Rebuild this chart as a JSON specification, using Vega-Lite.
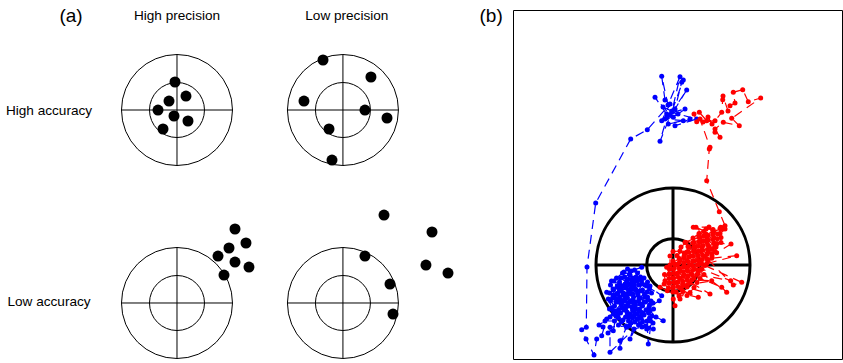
{
"$schema":"https://vega.github.io/schema/vega-lite/v6.json",
"padding":{"left":0,"top":7,"right":1,"bottom":3},
"spacing":13,
"bounds":"flush",
"config":{"view":{"stroke":null},"axis":{"disable":true},"font":"Liberation Sans","text":{"font":"Liberation Sans"}},
"datasets":{
"targetsA":[{"x":0,"y":0},{"x":29.9,"y":0},{"x":0,"y":-34.77},{"x":29.9,"y":-34.77}],
"crossA":[{"x":-10,"x2":10,"y":0,"y2":0},{"x":0,"x2":0,"y":-10,"y2":10},{"x":19.9,"x2":39.9,"y":0,"y2":0},{"x":29.9,"x2":29.9,"y":-10,"y2":10},{"x":-10,"x2":10,"y":-34.77,"y2":-34.77},{"x":0,"x2":0,"y":-44.77,"y2":-24.77},{"x":19.9,"x2":39.9,"y":-34.77,"y2":-34.77},{"x":29.9,"x2":29.9,"y":-44.77,"y2":-24.77}],
"dotsA":[{"x":-0.36,"y":5.05},{"x":1.62,"y":2.52},{"x":-1.44,"y":1.62},{"x":-3.42,"y":0},{"x":-0.54,"y":-1.08},{"x":1.98,"y":-1.98},{"x":-2.52,"y":-3.42},
{"x":26.31,"y":9.01},{"x":34.95,"y":5.95},{"x":22.88,"y":1.62},{"x":33.87,"y":0},{"x":37.84,"y":-1.44},{"x":27.39,"y":-3.42},{"x":27.93,"y":-9.01},
{"x":10.45,"y":-21.44},{"x":12.43,"y":-23.96},{"x":9.37,"y":-24.86},{"x":7.39,"y":-26.31},{"x":10.45,"y":-27.39},{"x":12.97,"y":-28.29},{"x":8.47,"y":-29.73},
{"x":37.3,"y":-18.92},{"x":45.95,"y":-21.98},{"x":33.87,"y":-26.31},{"x":44.86,"y":-27.93},{"x":48.83,"y":-29.37},{"x":38.38,"y":-31.35},{"x":38.92,"y":-36.76}],
"tags":[{"t":"(a)","x":-19.1,"y":16.9},{"t":"(b)","x":56.6,"y":16.9}],
"labelsA":[{"t":"High precision","x":0,"y":16.9},{"t":"Low precision","x":30.6,"y":16.9},{"t":"High accuracy","x":-23.06,"y":-0.18},{"t":"Low accuracy","x":-23.06,"y":-34.6}],
"targetB":[{"x":0,"y":0}],
"crossB":[{"x":-7.7,"x2":7.7,"y":0,"y2":0},{"x":0,"x2":0,"y":-7.7,"y2":7.7}],
"walk":[
{"s":"blue","x":-0.8,"y":16.5},{"s":"blue","x":-1.13,"y":18.87},{"s":"blue","x":-0.5,"y":16.0},{"s":"blue","x":0.7,"y":18.83},{"s":"blue","x":-0.1,"y":15.4},{"s":"blue","x":1.03,"y":18.5},{"s":"blue","x":0.87,"y":18.27},{"s":"blue","x":0.2,"y":15.6},{"s":"blue","x":1.37,"y":17.5},{"s":"blue","x":-0.3,"y":15.0},{"s":"blue","x":-1.8,"y":16.77},{"s":"blue","x":-0.63,"y":15.1},{"s":"blue","x":1.2,"y":15.6},{"s":"blue","x":0.03,"y":14.77},{"s":"blue","x":-0.8,"y":14.6},{"s":"blue","x":1.03,"y":14.43},{"s":"blue","x":-0.47,"y":14.1},{"s":"blue","x":1.7,"y":14.6},{"s":"blue","x":0.2,"y":13.93},{"s":"blue","x":2.37,"y":14.6},{"s":"blue","x":-0.13,"y":15.27},{"s":"blue","x":-1.3,"y":12.37},{"s":"blue","x":-0.6,"y":14.8},{"s":"blue","x":-1.0,"y":15.8},{"s":"blue","x":0.5,"y":15.1},{"s":"blue","x":-1.13,"y":14.43},{"s":"blue","x":-0.3,"y":16.1},{"s":"blue","x":-2.57,"y":13.53},{"s":"blue","x":-4.23,"y":12.6},{"s":"blue","x":-7.73,"y":6.2},{"s":"blue","x":-8.6,"y":-0.2},{"s":"blue","x":-8.67,"y":-6.23},
{"s":"blue","x":-9.13,"y":-6.47},{"s":"blue","x":-8.7,"y":-7.4},{"s":"blue","x":-7.9,"y":-9.0},{"s":"blue","x":-7.63,"y":-7.4},{"s":"blue","x":-7.13,"y":-7.07},{"s":"blue","x":-6.63,"y":-5.4},{"s":"blue","x":-5.8,"y":-4.6},{"s":"blue","x":-5.2,"y":-3.9},{"s":"blue","x":-4.6,"y":-3.2},{"s":"blue","x":-5.3,"y":-2.6},{"s":"blue","x":-4.8,"y":-1.9},{"s":"blue","x":-4.1,"y":-2.4},{"s":"blue","x":-3.6,"y":-1.6},{"s":"blue","x":-4.3,"y":-1.0},{"s":"blue","x":-4.9,"y":-0.7},{"s":"blue","x":-4.2,"y":-0.6},{"s":"blue","x":-3.13,"y":-0.23},{"s":"blue","x":-3.7,"y":-1.2},{"s":"blue","x":-3.1,"y":-1.9},{"s":"blue","x":-3.5,"y":-2.7},{"s":"blue","x":-2.8,"y":-3.2},{"s":"blue","x":-3.3,"y":-3.9},{"s":"blue","x":-4.0,"y":-3.5},{"s":"blue","x":-4.7,"y":-4.1},{"s":"blue","x":-5.4,"y":-3.4},{"s":"blue","x":-6.0,"y":-3.0},{"s":"blue","x":-6.63,"y":-2.73},{"s":"blue","x":-5.6,"y":-2.2},{"s":"blue","x":-5.9,"y":-1.6},{"s":"blue","x":-5.2,"y":-1.3},{"s":"blue","x":-4.6,"y":-1.8},{"s":"blue","x":-4.0,"y":-2.9},{"s":"blue","x":-3.4,"y":-3.3},{"s":"blue","x":-2.6,"y":-2.7},{"s":"blue","x":-2.3,"y":-2.1},{"s":"blue","x":-2.9,"y":-1.3},{"s":"blue","x":-3.9,"y":-1.9},{"s":"blue","x":-4.4,"y":-2.6},{"s":"blue","x":-5.0,"y":-3.0},{"s":"blue","x":-5.7,"y":-3.7},{"s":"blue","x":-6.47,"y":-3.4},{"s":"blue","x":-6.1,"y":-4.3},{"s":"blue","x":-5.5,"y":-4.9},{"s":"blue","x":-4.9,"y":-4.5},{"s":"blue","x":-4.3,"y":-4.9},{"s":"blue","x":-3.7,"y":-4.4},{"s":"blue","x":-3.0,"y":-4.8},{"s":"blue","x":-2.4,"y":-4.2},{"s":"blue","x":-1.37,"y":-3.57},{"s":"blue","x":-2.0,"y":-3.8},{"s":"blue","x":-2.5,"y":-3.5},{"s":"blue","x":-3.1,"y":-4.0},{"s":"blue","x":-3.8,"y":-3.7},{"s":"blue","x":-4.5,"y":-3.8},{"s":"blue","x":-5.1,"y":-4.3},{"s":"blue","x":-6.13,"y":-4.4},{"s":"blue","x":-5.7,"y":-5.1},{"s":"blue","x":-5.97,"y":-6.57},{"s":"blue","x":-5.0,"y":-5.5},{"s":"blue","x":-4.4,"y":-5.2},{"s":"blue","x":-3.8,"y":-5.7},{"s":"blue","x":-4.3,"y":-7.4},{"s":"blue","x":-3.2,"y":-5.3},{"s":"blue","x":-2.6,"y":-5.6},{"s":"blue","x":-2.47,"y":-7.9},{"s":"blue","x":-2.1,"y":-5.1},{"s":"blue","x":-2.7,"y":-4.5},{"s":"blue","x":-3.4,"y":-4.6},{"s":"blue","x":-4.1,"y":-4.2},{"s":"blue","x":-4.8,"y":-3.3},{"s":"blue","x":-5.3,"y":-2.0},{"s":"blue","x":-4.5,"y":-1.4},{"s":"blue","x":-3.9,"y":-2.2},{"s":"blue","x":-3.2,"y":-2.6},{"s":"blue","x":-2.8,"y":-2.0},{"s":"blue","x":-1.13,"y":-3.07},{"s":"blue","x":-3.4,"y":-1.4},{"s":"blue","x":-4.1,"y":-1.5},{"s":"blue","x":-4.7,"y":-2.3},{"s":"blue","x":-5.5,"y":-2.8},{"s":"blue","x":-6.0,"y":-2.4},{"s":"blue","x":-5.8,"y":-3.3},{"s":"blue","x":-5.2,"y":-3.5},{"s":"blue","x":-4.6,"y":-4.7},{"s":"blue","x":-3.9,"y":-5.1},{"s":"blue","x":-3.3,"y":-5.9},{"s":"blue","x":-2.63,"y":-6.4},{"s":"blue","x":-2.5,"y":-6.3},{"s":"blue","x":-2.0,"y":-5.8},{"s":"blue","x":-0.97,"y":-5.57},{"s":"blue","x":-1.7,"y":-5.2},{"s":"blue","x":-2.3,"y":-4.6},{"s":"blue","x":-2.9,"y":-5.0},{"s":"blue","x":-3.6,"y":-5.4},{"s":"blue","x":-4.2,"y":-5.8},{"s":"blue","x":-4.63,"y":-6.23},{"s":"blue","x":-5.3,"y":-7.57},{"s":"blue","x":-5.3,"y":-8.33},{"s":"blue","x":-4.7,"y":-6.1},{"s":"blue","x":-6.3,"y":-6.23},{"s":"blue","x":-6.3,"y":-8.73},{"s":"blue","x":-3.9,"y":-6.4},{"s":"blue","x":-3.1,"y":-6.2},{"s":"blue","x":-1.97,"y":-6.4},{"s":"blue","x":-3.6,"y":-4.9},{"s":"blue","x":-4.3,"y":-3.6},{"s":"blue","x":-3.5,"y":-3.0},{"s":"blue","x":-2.9,"y":-3.7},{"s":"blue","x":-3.9,"y":-4.0},{"s":"blue","x":-4.6,"y":-2.9},{"s":"blue","x":-5.4,"y":-2.4},{"s":"blue","x":-4.9,"y":-2.1},{"s":"blue","x":-4.3,"y":-1.9},{"s":"blue","x":-3.7,"y":-2.5},
{"s":"blue","x":-6.15,"y":-1.6},{"s":"blue","x":-6.25,"y":-2.0},{"s":"blue","x":-5.95,"y":-2.5},{"s":"blue","x":-6.35,"y":-2.8},{"s":"blue","x":-6.05,"y":-3.3},{"s":"blue","x":-6.25,"y":-3.6},{"s":"blue","x":-5.85,"y":-4.1},{"s":"blue","x":-6.35,"y":-4.4},{"s":"blue","x":-5.95,"y":-4.9},{"s":"blue","x":-6.3,"y":-5.2},{"s":"blue","x":-5.85,"y":-5.6},{"s":"blue","x":-6.8,"y":-5.6},{"s":"blue","x":-7.4,"y":-6.0},{"s":"blue","x":-7.0,"y":-6.2},{"s":"blue","x":-6.5,"y":-6.8},
{"s":"blue","x":-5.45,"y":-6.0},{"s":"blue","x":-5.15,"y":-5.7},{"s":"blue","x":-5.45,"y":-5.3},{"s":"blue","x":-5.25,"y":-4.8},{"s":"blue","x":-5.45,"y":-4.5},{"s":"blue","x":-5.15,"y":-4.0},{"s":"blue","x":-5.55,"y":-3.7},{"s":"blue","x":-5.35,"y":-3.2},{"s":"blue","x":-5.65,"y":-2.9},{"s":"blue","x":-5.15,"y":-2.4},{"s":"blue","x":-5.55,"y":-2.1},{"s":"blue","x":-5.35,"y":-1.7},{"s":"blue","x":-5.65,"y":-1.3},{"s":"blue","x":-5.05,"y":-0.8},
{"s":"blue","x":-4.55,"y":-0.4},{"s":"blue","x":-4.35,"y":-0.9},{"s":"blue","x":-4.85,"y":-1.2},{"s":"blue","x":-4.65,"y":-1.6},{"s":"blue","x":-4.85,"y":-2.0},{"s":"blue","x":-4.45,"y":-2.5},{"s":"blue","x":-4.95,"y":-2.8},{"s":"blue","x":-4.65,"y":-3.3},{"s":"blue","x":-4.85,"y":-3.6},{"s":"blue","x":-4.45,"y":-4.1},{"s":"blue","x":-4.75,"y":-4.4},{"s":"blue","x":-4.55,"y":-4.9},{"s":"blue","x":-4.75,"y":-5.2},{"s":"blue","x":-4.45,"y":-5.6},{"s":"blue","x":-4.35,"y":-6.1},
{"s":"blue","x":-4.05,"y":-5.3},{"s":"blue","x":-3.85,"y":-4.8},{"s":"blue","x":-4.05,"y":-4.5},{"s":"blue","x":-3.75,"y":-4.0},{"s":"blue","x":-4.15,"y":-3.7},{"s":"blue","x":-3.95,"y":-3.2},{"s":"blue","x":-4.25,"y":-2.9},{"s":"blue","x":-3.75,"y":-2.4},{"s":"blue","x":-4.15,"y":-2.1},{"s":"blue","x":-3.95,"y":-1.7},{"s":"blue","x":-4.05,"y":-1.3},{"s":"blue","x":-3.85,"y":-0.5},
{"s":"blue","x":-3.55,"y":-0.8},{"s":"blue","x":-3.25,"y":-1.2},{"s":"blue","x":-3.15,"y":-1.6},{"s":"blue","x":-3.45,"y":-2.0},{"s":"blue","x":-3.05,"y":-2.5},{"s":"blue","x":-3.55,"y":-2.8},{"s":"blue","x":-3.25,"y":-3.3},{"s":"blue","x":-3.45,"y":-3.6},{"s":"blue","x":-3.05,"y":-4.1},{"s":"blue","x":-3.35,"y":-4.4},{"s":"blue","x":-3.15,"y":-4.9},{"s":"blue","x":-3.35,"y":-5.2},{"s":"blue","x":-3.05,"y":-5.7},{"s":"blue","x":-3.45,"y":-6.0},
{"s":"blue","x":-2.75,"y":-6.1},{"s":"blue","x":-2.25,"y":-5.6},{"s":"blue","x":-2.35,"y":-5.3},{"s":"blue","x":-2.45,"y":-4.8},{"s":"blue","x":-1.95,"y":-4.4},{"s":"blue","x":-2.65,"y":-4.5},{"s":"blue","x":-2.35,"y":-4.0},{"s":"blue","x":-2.2,"y":-3.6},{"s":"blue","x":-2.75,"y":-3.7},{"s":"blue","x":-2.55,"y":-3.2},{"s":"blue","x":-2.15,"y":-2.8},{"s":"blue","x":-2.85,"y":-2.9},{"s":"blue","x":-2.35,"y":-2.4},{"s":"blue","x":-2.65,"y":-2.1},{"s":"blue","x":-2.55,"y":-1.7},
{"s":"red","x":2.37,"y":14.33},{"s":"red","x":2.1,"y":15.1},{"s":"red","x":2.63,"y":15.27},{"s":"red","x":3.37,"y":14.43},{"s":"red","x":3.0,"y":14.3},{"s":"red","x":4.2,"y":14.43},{"s":"red","x":4.87,"y":15.27},{"s":"red","x":4.97,"y":16.53},{"s":"red","x":5.0,"y":16.9},{"s":"red","x":5.5,"y":15.4},{"s":"red","x":5.7,"y":15.93},{"s":"red","x":6.2,"y":16.2},{"s":"red","x":6.03,"y":17.27},{"s":"red","x":6.97,"y":17.53},{"s":"red","x":7.53,"y":16.33},{"s":"red","x":8.77,"y":16.7},{"s":"red","x":5.87,"y":14.67},{"s":"red","x":6.63,"y":13.93},{"s":"red","x":5.03,"y":14.27},{"s":"red","x":4.2,"y":13.6},{"s":"red","x":4.2,"y":13.27},{"s":"red","x":4.7,"y":12.77},{"s":"red","x":3.9,"y":14.1},{"s":"red","x":3.5,"y":14.8},{"s":"red","x":2.7,"y":14.6},{"s":"red","x":3.7,"y":11.77},{"s":"red","x":3.63,"y":11.6},{"s":"red","x":3.37,"y":8.43},{"s":"red","x":4.63,"y":5.33},{"s":"red","x":5.2,"y":3.93},{"s":"red","x":4.97,"y":3.6},
{"s":"red","x":4.45,"y":3.1},{"s":"red","x":4.0,"y":3.5},{"s":"red","x":3.6,"y":3.8},{"s":"red","x":2.03,"y":3.77},{"s":"red","x":3.07,"y":3.36},{"s":"red","x":3.52,"y":2.96},{"s":"red","x":3.96,"y":2.56},{"s":"red","x":4.4,"y":2.16},{"s":"red","x":5.8,"y":2.1},{"s":"red","x":4.36,"y":1.22},{"s":"red","x":3.91,"y":1.62},{"s":"red","x":3.47,"y":2.02},{"s":"red","x":3.03,"y":2.42},{"s":"red","x":2.58,"y":2.82},{"s":"red","x":1.2,"y":2.27},{"s":"red","x":2.09,"y":2.28},{"s":"red","x":2.54,"y":1.88},{"s":"red","x":2.98,"y":1.48},{"s":"red","x":3.42,"y":1.08},{"s":"red","x":3.87,"y":0.68},{"s":"red","x":6.37,"y":0.93},{"s":"red","x":3.38,"y":0.14},{"s":"red","x":2.93,"y":0.54},{"s":"red","x":2.49,"y":0.94},{"s":"red","x":2.05,"y":1.34},{"s":"red","x":1.6,"y":1.74},{"s":"red","x":1.11,"y":1.2},{"s":"red","x":1.56,"y":0.8},{"s":"red","x":2.0,"y":0.4},{"s":"red","x":2.44,"y":0.0},{"s":"red","x":2.89,"y":-0.4},{"s":"red","x":5.77,"y":-1.57},{"s":"red","x":2.4,"y":-0.94},{"s":"red","x":1.95,"y":-0.54},{"s":"red","x":1.51,"y":-0.14},{"s":"red","x":1.07,"y":0.26},{"s":"red","x":0.62,"y":0.66},{"s":"red","x":-0.63,"y":-0.23},{"s":"red","x":0.13,"y":0.12},{"s":"red","x":0.58,"y":-0.28},{"s":"red","x":1.02,"y":-0.68},{"s":"red","x":1.46,"y":-1.08},{"s":"red","x":1.91,"y":-1.48},{"s":"red","x":3.87,"y":-1.57},{"s":"red","x":1.42,"y":-2.02},{"s":"red","x":0.97,"y":-1.62},{"s":"red","x":0.53,"y":-1.22},{"s":"red","x":0.09,"y":-0.82},{"s":"red","x":-0.36,"y":-0.42},{"s":"red","x":-0.8,"y":-1.57},{"s":"red","x":-0.85,"y":-0.96},{"s":"red","x":-0.4,"y":-1.36},{"s":"red","x":0.04,"y":-1.76},{"s":"red","x":0.48,"y":-2.16},{"s":"red","x":0.93,"y":-2.56},{"s":"red","x":2.53,"y":-3.23},{"s":"red","x":-0.01,"y":-2.7},{"s":"red","x":-0.45,"y":-2.3},{"s":"red","x":-0.89,"y":-1.9},{"s":"red","x":-1.3,"y":-2.23},{"s":"red","x":-0.57,"y":-2.57},{"s":"red","x":0.03,"y":-3.4},{"s":"red","x":0.2,"y":-4.07},{"s":"red","x":0.7,"y":-3.4},
{"s":"red","x":0.02,"y":-2.23},{"s":"red","x":-0.42,"y":-1.83},{"s":"red","x":-0.38,"y":-0.89},{"s":"red","x":0.07,"y":-1.29},{"s":"red","x":0.51,"y":-1.69},{"s":"red","x":0.96,"y":-2.09},{"s":"red","x":3.7,"y":-2.9},{"s":"red","x":1.45,"y":-1.55},{"s":"red","x":1.0,"y":-1.15},{"s":"red","x":0.56,"y":-0.75},{"s":"red","x":0.11,"y":-0.35},{"s":"red","x":0.6,"y":0.19},{"s":"red","x":1.05,"y":-0.21},{"s":"red","x":1.49,"y":-0.61},{"s":"red","x":1.94,"y":-1.01},{"s":"red","x":4.87,"y":-2.23},{"s":"red","x":5.37,"y":-2.73},{"s":"red","x":2.43,"y":-0.47},{"s":"red","x":1.98,"y":-0.07},{"s":"red","x":1.54,"y":0.33},{"s":"red","x":1.09,"y":0.73},{"s":"red","x":1.58,"y":1.27},{"s":"red","x":2.03,"y":0.87},{"s":"red","x":2.47,"y":0.47},{"s":"red","x":2.92,"y":0.07},{"s":"red","x":6.87,"y":-1.73},{"s":"red","x":6.03,"y":-2.0},{"s":"red","x":3.41,"y":0.61},{"s":"red","x":2.96,"y":1.01},{"s":"red","x":2.52,"y":1.41},{"s":"red","x":2.07,"y":1.81},{"s":"red","x":2.56,"y":2.35},{"s":"red","x":3.01,"y":1.95},{"s":"red","x":3.45,"y":1.55},{"s":"red","x":3.9,"y":1.15},{"s":"red","x":4.17,"y":1.89},{"s":"red","x":3.5,"y":2.49},{"s":"red","x":3.06,"y":2.89},{"s":"red","x":2.3,"y":3.77},{"s":"red","x":3.99,"y":3.03},{"s":"red","x":4.43,"y":2.63},{"s":"red","x":4.77,"y":3.77},{"s":"red","x":5.1,"y":3.77},
{"s":"red","x":1.3,"y":2.25},{"s":"red","x":0.8,"y":1.8},{"s":"red","x":0.7,"y":1.4},{"s":"red","x":0.0,"y":1.35},{"s":"red","x":-0.3,"y":0.9},
{"s":"red","x":-0.3,"y":0.0},{"s":"red","x":0.0,"y":0.4},{"s":"red","x":0.4,"y":0.95},{"s":"red","x":1.5,"y":1.85},{"s":"red","x":2.0,"y":2.2},{"s":"red","x":2.0,"y":2.7},{"s":"red","x":2.6,"y":3.15},{"s":"red","x":3.3,"y":3.6},
{"s":"red","x":4.0,"y":3.55},{"s":"red","x":3.3,"y":3.1},{"s":"red","x":2.7,"y":2.75},{"s":"red","x":2.7,"y":2.25},{"s":"red","x":2.2,"y":1.75},{"s":"red","x":2.1,"y":1.35},{"s":"red","x":1.4,"y":1.3},{"s":"red","x":1.1,"y":0.85},{"s":"red","x":0.7,"y":0.5},{"s":"red","x":0.4,"y":0.05},{"s":"red","x":0.0,"y":-0.4},{"s":"red","x":-0.3,"y":-0.9},
{"s":"red","x":-0.4,"y":-1.8},{"s":"red","x":0.0,"y":-1.3},{"s":"red","x":0.4,"y":-0.85},{"s":"red","x":0.7,"y":-0.45},{"s":"red","x":1.1,"y":-0.05},{"s":"red","x":1.4,"y":0.45},{"s":"red","x":1.8,"y":0.9},{"s":"red","x":2.8,"y":1.4},{"s":"red","x":2.9,"y":1.8},{"s":"red","x":3.4,"y":2.3},{"s":"red","x":3.4,"y":2.65},{"s":"red","x":4.0,"y":3.2},{"s":"red","x":4.7,"y":3.65},
{"s":"red","x":5.2,"y":3.6},{"s":"red","x":4.7,"y":3.15},{"s":"red","x":4.1,"y":2.7},{"s":"red","x":4.1,"y":2.2},{"s":"red","x":3.6,"y":1.85},{"s":"red","x":2.5,"y":0.95},{"s":"red","x":2.1,"y":0.4},{"s":"red","x":1.8,"y":0.0},{"s":"red","x":1.4,"y":-0.5},{"s":"red","x":1.1,"y":-0.95},{"s":"red","x":0.7,"y":-1.35},{"s":"red","x":0.3,"y":-1.75},{"s":"red","x":0.0,"y":-2.25},
{"s":"red","x":0.3,"y":-2.7},{"s":"red","x":0.7,"y":-2.3},{"s":"red","x":1.0,"y":-1.85},{"s":"red","x":1.4,"y":-1.4},{"s":"red","x":1.8,"y":-0.9},{"s":"red","x":2.1,"y":-0.4},{"s":"red","x":2.5,"y":0.05},{"s":"red","x":2.8,"y":0.5},{"s":"red","x":3.2,"y":0.85},{"s":"red","x":3.5,"y":1.3},{"s":"red","x":4.3,"y":1.8},{"s":"red","x":4.8,"y":2.25},{"s":"red","x":4.8,"y":2.75},
{"s":"red","x":4.2,"y":1.35},{"s":"red","x":3.9,"y":0.9},{"s":"red","x":3.5,"y":0.45},{"s":"red","x":3.2,"y":-0.05},{"s":"red","x":2.8,"y":-0.45},{"s":"red","x":2.5,"y":-0.85},{"s":"red","x":2.1,"y":-1.3},{"s":"red","x":1.7,"y":-1.8},{"s":"red","x":1.4,"y":-2.2},{"s":"red","x":1.0,"y":-2.65},{"s":"red","x":0.6,"y":-3.1},
{"s":"red","x":1.4,"y":-3.05},{"s":"red","x":1.7,"y":-2.75},{"s":"red","x":2.1,"y":-2.25},{"s":"red","x":2.4,"y":-1.75},{"s":"red","x":2.7,"y":-1.35},{"s":"red","x":3.1,"y":-0.95}
]
},
"hconcat":[
{"width":500,"height":349,
"encoding":{"x":{"field":"x","type":"quantitative","scale":{"domain":[-31.89,58.2],"nice":false,"zero":false},"axis":null},"y":{"field":"y","type":"quantitative","scale":{"domain":[-44.86,18.02],"nice":false,"zero":false},"axis":null}},
"layer":[
{"data":{"name":"targetsA"},"mark":{"type":"point","shape":"circle","filled":false,"stroke":"black","strokeWidth":1,"size":12321,"opacity":1}},
{"data":{"name":"targetsA"},"mark":{"type":"point","shape":"circle","filled":false,"stroke":"black","strokeWidth":1,"size":3025,"opacity":1}},
{"data":{"name":"crossA"},"mark":{"type":"rule","stroke":"black","strokeWidth":1},"encoding":{"x2":{"field":"x2"},"y2":{"field":"y2"}}},
{"data":{"name":"dotsA"},"mark":{"type":"point","shape":"circle","filled":true,"color":"black","size":121,"opacity":1}},
{"data":{"name":"tags"},"mark":{"type":"text","fontSize":19,"color":"black"},"encoding":{"text":{"field":"t"}}},
{"data":{"name":"labelsA"},"mark":{"type":"text","fontSize":13.6,"color":"black"},"encoding":{"text":{"field":"t"}}}
]},
{"width":329,"height":349,"view":{"stroke":"black","strokeWidth":1},
"encoding":{"x":{"field":"x","type":"quantitative","scale":{"domain":[-16,16.9],"nice":false,"zero":false},"axis":null},"y":{"field":"y","type":"quantitative","scale":{"domain":[-9.4,25.5],"nice":false,"zero":false},"axis":null}},
"layer":[
{"data":{"name":"targetB"},"mark":{"type":"point","shape":"circle","filled":false,"stroke":"black","strokeWidth":3,"size":23716,"opacity":1}},
{"data":{"name":"targetB"},"mark":{"type":"point","shape":"circle","filled":false,"stroke":"black","strokeWidth":3,"size":2767,"opacity":1}},
{"data":{"name":"crossB"},"mark":{"type":"rule","stroke":"black","strokeWidth":3},"encoding":{"x2":{"field":"x2"},"y2":{"field":"y2"}}},
{"data":{"name":"walk"},"mark":{"type":"line","strokeWidth":1.2,"strokeDash":[9,6],"point":{"filled":true,"size":25,"opacity":1}},"encoding":{"color":{"field":"s","type":"nominal","scale":{"domain":["blue","red"],"range":["#0000ff","#ff0000"]},"legend":null},"order":{"value":null}}}
]}
]
}
